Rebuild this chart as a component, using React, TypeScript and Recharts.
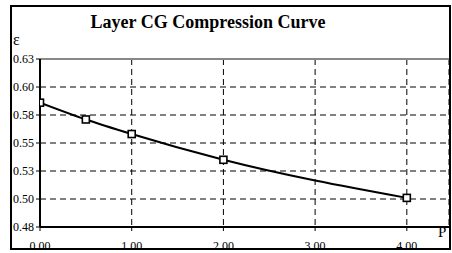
import React from 'react';
import { LineChart, Line, XAxis, YAxis, CartesianGrid, ReferenceLine } from 'recharts';

const pressures = [0, 0.5, 1, 2, 4];
const voidRatios = [0.586, 0.571, 0.558, 0.535, 0.501];
const xTicks = [0, 1, 2, 3, 4];
const xTickLabels = ['0.00', '1.00', '2.00', '3.00', '4.00'];
const yTicks = [0.475, 0.5, 0.525, 0.55, 0.575, 0.6, 0.625];
const yTickLabels = ['0.48', '0.50', '0.53', '0.55', '0.58', '0.60', '0.63'];
const title = 'Layer CG Compression Curve';
const yTitle = 'ε';
const xTitle = 'P';

const data = pressures.map((p, i) => ({ p, e: voidRatios[i] }));
const FONT = "'Liberation Serif', 'Times New Roman', serif";

const closest = (arr: number[], v: number) => {
  let best = 0;
  arr.forEach((a, i) => {
    if (Math.abs(a - v) < Math.abs(arr[best] - v)) best = i;
  });
  return best;
};

const SquareDot = (props: any) => {
  const { cx, cy } = props;
  if (cx == null || cy == null) return null;
  return <rect x={cx - 3.5} y={cy - 3.5} width={7} height={7} fill="#fff" stroke="#000" strokeWidth={1.6} />;
};

export default function App() {
  return (
    <div style={{ position: 'absolute', left: 0, top: 0, width: 452, height: 253, background: '#fff', overflow: 'hidden' }}>
      <LineChart width={452} height={253} data={data} margin={{ top: 59, right: 3, bottom: 0, left: 0 }}>
        <CartesianGrid stroke="#000" strokeDasharray="6 4" strokeWidth={1} />
        <XAxis
          type="number"
          dataKey="p"
          domain={[0, 4.46]}
          ticks={xTicks}
          interval={0}
          height={26}
          tickSize={4}
          tickMargin={10}
          allowDataOverflow
          tickFormatter={(v: number) => xTickLabels[closest(xTicks, v)]}
          tick={{ fill: '#000', fontSize: 12, fontFamily: FONT }}
          axisLine={{ stroke: '#000', strokeWidth: 2 }}
          tickLine={{ stroke: '#000' }}
        />
        <YAxis
          type="number"
          domain={[0.475, 0.625]}
          ticks={yTicks}
          interval={0}
          width={40}
          tickSize={4}
          tickMargin={2}
          allowDataOverflow
          tickFormatter={(v: number) => yTickLabels[closest(yTicks, v)]}
          tick={{ fill: '#000', fontSize: 12, fontFamily: FONT }}
          axisLine={{ stroke: '#000', strokeWidth: 2 }}
          tickLine={{ stroke: '#000' }}
        />
        <ReferenceLine y={0.625} stroke="#888" strokeWidth={2} />
        <Line
          type="monotone"
          dataKey="e"
          stroke="#000"
          strokeWidth={2}
          dot={<SquareDot />}
          activeDot={false}
          isAnimationActive={false}
        />
      </LineChart>
      <svg width={452} height={253} style={{ position: 'absolute', left: 0, top: 0, pointerEvents: 'none' }}>
        <text x={208} y={28} textAnchor="middle" fontFamily={FONT} fontWeight="bold" fontSize={18} fill="#000">{title}</text>
        <text x={13} y={45} fontFamily={FONT} fontSize={16} fill="#000">{yTitle}</text>
        <text x={438} y={237} fontFamily={FONT} fontSize={15} fill="#000">{xTitle}</text>
        <rect x={11} y={6} width={439} height={243} fill="none" stroke="#000" strokeWidth={2} />
      </svg>
    </div>
  );
}
